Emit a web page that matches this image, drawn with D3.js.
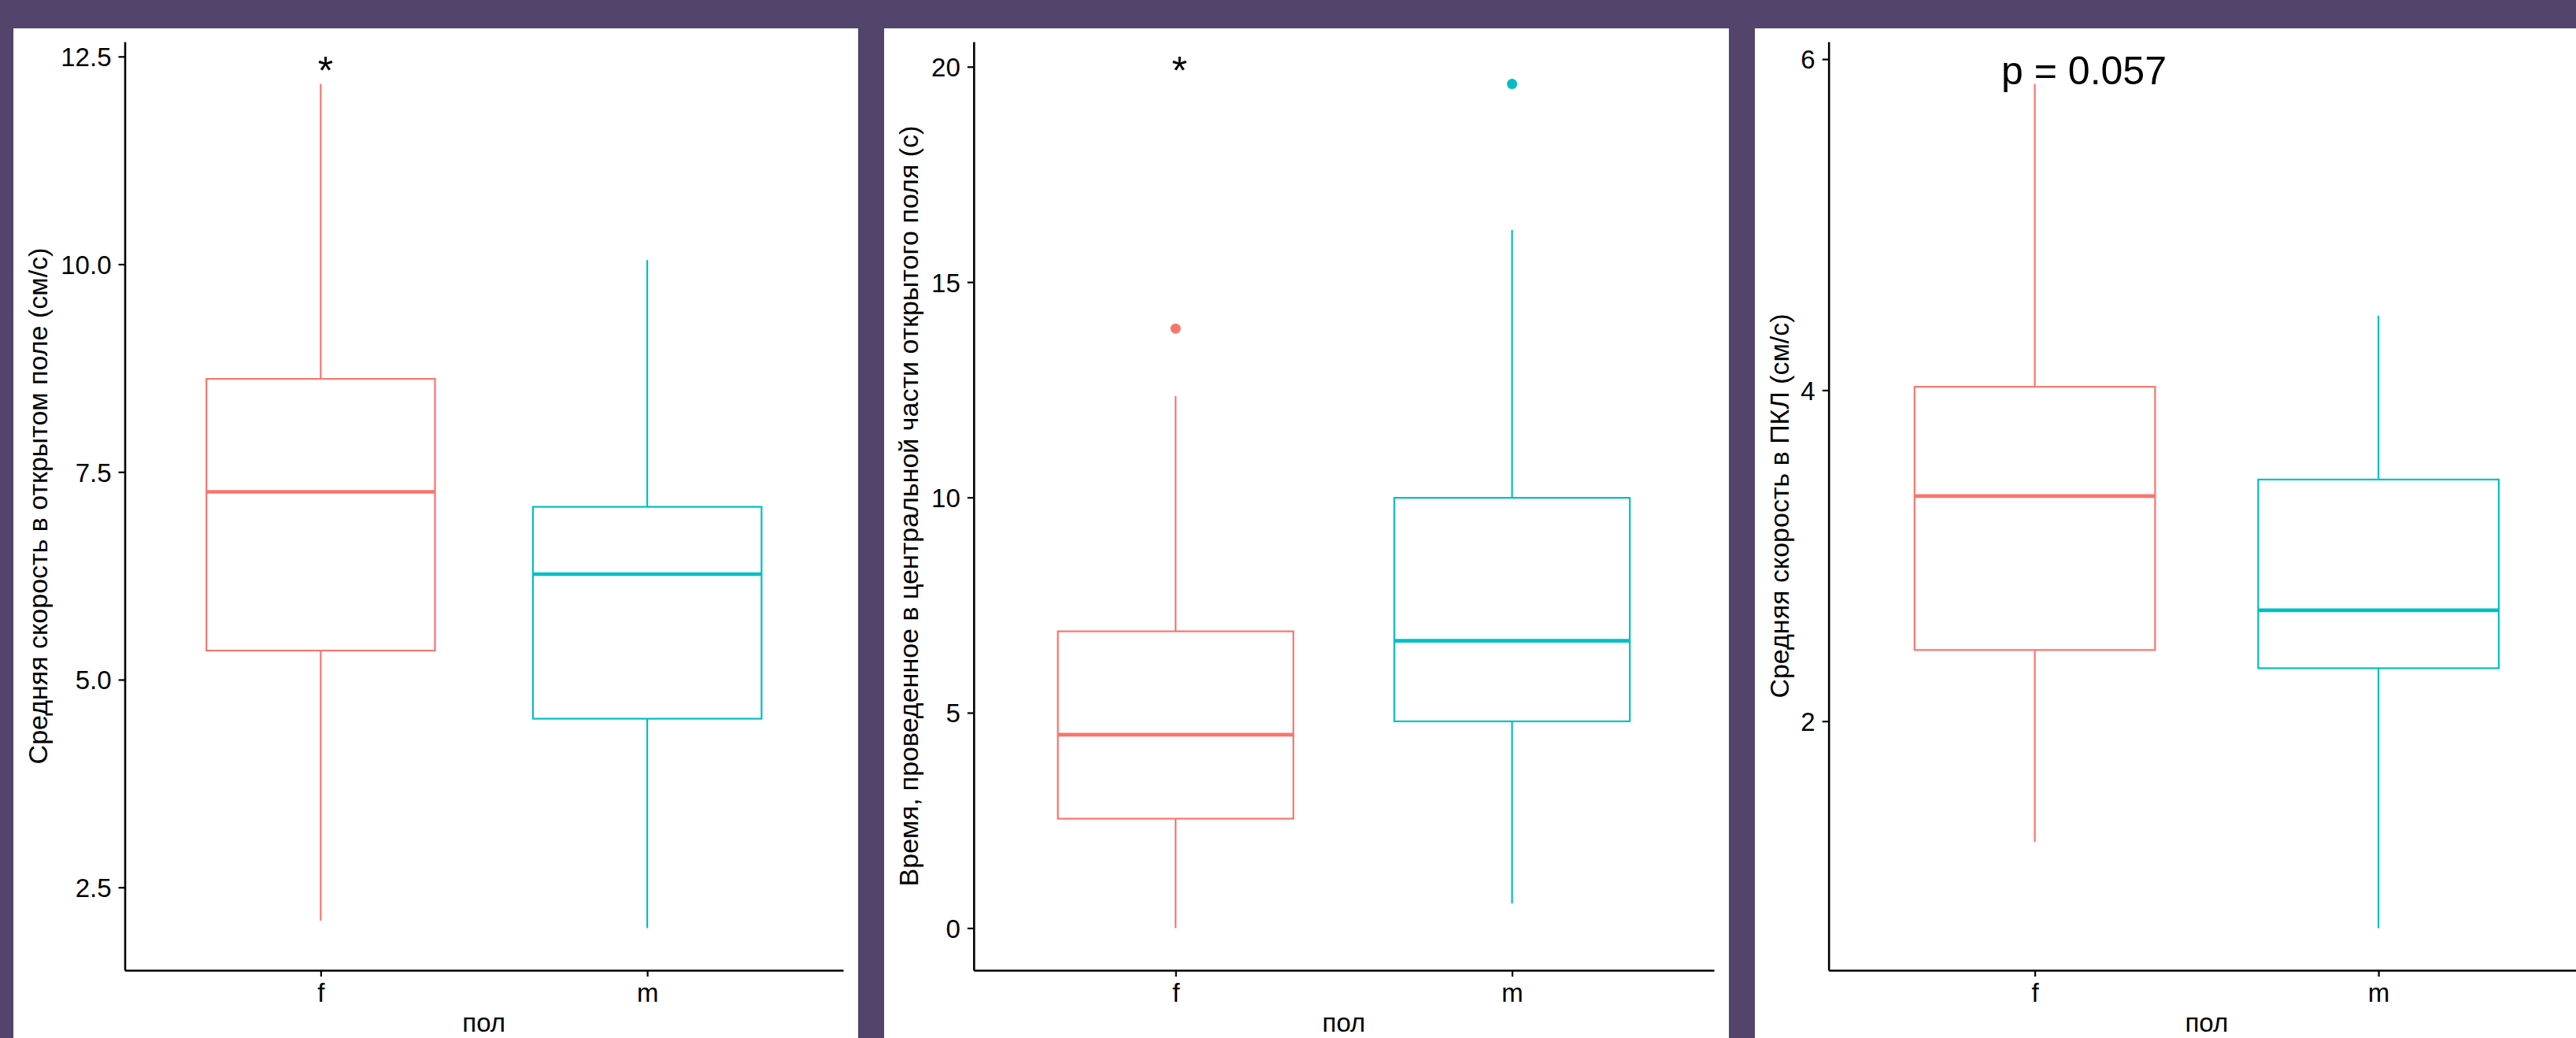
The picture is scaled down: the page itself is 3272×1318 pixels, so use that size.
<!DOCTYPE html>
<html>
<head>
<meta charset="utf-8">
<script src="https://cdn.jsdelivr.net/npm/d3@7"></script>
<style>
  html, body { margin: 0; padding: 0; background: #52446A; }
  svg { display: block; }
  text { font-family: "Liberation Sans", Arial, Helvetica, sans-serif; fill: #000; }
</style>
</head>
<body>
<svg id="chart" width="3272" height="1318"></svg>
<script>
// Groups on the x axis
const categories = ["f", "m"];

// Box statistics per group: [lower whisker, Q1, median, Q3, upper whisker]
// Mean speed in the open field (cm/s)
const speedOpenField_f = [2.10, 5.35, 7.26, 8.62, 12.17];
const speedOpenField_m = [2.01, 4.53, 6.27, 7.08, 10.05];
// Time spent in the central part of the open field (s)
const centerTime_f = [0.00, 2.54, 4.49, 6.89, 12.35];
const centerTime_m = [0.57, 4.80, 6.67, 9.99, 16.21];
const centerTimeOutliers_f = [13.92];
const centerTimeOutliers_m = [19.60];
// Mean speed in the elevated plus maze (cm/s)
const speedEPM_f = [1.27, 2.43, 3.36, 4.02, 5.85];
const speedEPM_m = [0.75, 2.32, 2.67, 3.46, 4.45];

// Axis ticks
const ticksSpeedOpenField = [2.5, 5.0, 7.5, 10.0, 12.5];
const ticksCenterTime = [0, 5, 10, 15, 20];
const ticksSpeedEPM = [2, 4, 6];

// Text
const yTitles = [
  "Средняя скорость в открытом поле (см/с)",
  "Время, проведенное в центральной части открытого поля (с)",
  "Средняя скорость в ПКЛ (см/с)"
];
const xTitle = "пол";
const testLabels = ["*", "*", "p = 0.057"];

const groupColors = ["#F8766D", "#00BFC4"];

const panels = [
  { stats: [speedOpenField_f, speedOpenField_m], outliers: [[], []],
    ticks: ticksSpeedOpenField, fmt: d3.format(".1f"),
    left: 17, axisOffset: 141.5, labelX: 1.015, anchor: "middle" },
  { stats: [centerTime_f, centerTime_m], outliers: [centerTimeOutliers_f, centerTimeOutliers_m],
    ticks: ticksCenterTime, fmt: d3.format("d"),
    left: 1123, axisOffset: 113.8, labelX: 1.012, anchor: "middle" },
  { stats: [speedEPM_f, speedEPM_m], outliers: [[], []],
    ticks: ticksSpeedEPM, fmt: d3.format("d"),
    left: 2229, axisOffset: 93.7, labelX: 1.143, anchor: "middle" }
];

const svg = d3.select("#chart");
const bandTop = 36, panelW = 1073, panelH = 1318 - bandTop;
const plotTop = 53, plotBottom = 1232, rightPad = 19;

panels.forEach((p, i) => {
  const g = svg.append("g");
  g.append("rect")
    .attr("x", p.left).attr("y", bandTop)
    .attr("width", panelW).attr("height", panelH)
    .attr("fill", "#ffffff");

  const x0 = p.left + p.axisOffset;
  const x1 = p.left + panelW - rightPad;

  // y domain: data range expanded by 5% on both sides
  const all = p.stats.flat().concat(p.outliers.flat());
  const lo = d3.min(all), hi = d3.max(all);
  const pad = (hi - lo) * 0.05;
  const y = d3.scaleLinear().domain([lo - pad, hi + pad]).range([plotBottom, plotTop]);

  const x = d3.scalePoint().domain(categories).range([x0, x1]).padding(0.6);
  const boxW = x.step() * 0.7;

  // boxes
  p.stats.forEach((s, k) => {
    const cx = x(categories[k]);
    const col = groupColors[k];
    const bg = g.append("g").attr("stroke", col).attr("fill", "none");
    bg.append("line").attr("x1", cx).attr("x2", cx)
      .attr("y1", y(s[4])).attr("y2", y(s[3])).attr("stroke-width", 2.2);
    bg.append("line").attr("x1", cx).attr("x2", cx)
      .attr("y1", y(s[1])).attr("y2", y(s[0])).attr("stroke-width", 2.2);
    bg.append("rect")
      .attr("x", cx - boxW / 2).attr("y", y(s[3]))
      .attr("width", boxW).attr("height", y(s[1]) - y(s[3]))
      .attr("fill", "#ffffff").attr("stroke-width", 2.2);
    bg.append("line").attr("x1", cx - boxW / 2).attr("x2", cx + boxW / 2)
      .attr("y1", y(s[2])).attr("y2", y(s[2])).attr("stroke-width", 4.6);
    p.outliers[k].forEach(v => {
      g.append("circle").attr("cx", cx).attr("cy", y(v)).attr("r", 6.5)
        .attr("fill", col).attr("stroke", "none");
    });
  });

  // axes
  const yAxis = g.append("g").attr("transform", `translate(${x0},0)`)
    .call(d3.axisLeft(y).tickValues(p.ticks).tickFormat(p.fmt)
      .tickSize(8).tickSizeOuter(0).tickPadding(9));
  const xAxis = g.append("g").attr("transform", `translate(0,${plotBottom})`)
    .call(d3.axisBottom(x).tickSize(8).tickSizeOuter(0).tickPadding(7));

  [yAxis, xAxis].forEach(a => {
    a.select(".domain").attr("stroke", "#000").attr("stroke-width", 2.6);
    a.selectAll(".tick line").attr("stroke", "#000").attr("stroke-width", 2.2);
    a.selectAll(".tick text").attr("fill", "#000")
      .style("font-size", "33px").style("font-family", '"Liberation Sans", Arial, sans-serif');
  });
  yAxis.selectAll(".tick text").attr("dy", "0.36em");
  xAxis.selectAll(".tick text").attr("dy", "0.76em");

  // axis titles
  g.append("text")
    .attr("transform", `translate(${p.left + 43},${(plotTop + plotBottom) / 2}) rotate(-90)`)
    .attr("text-anchor", "middle")
    .style("font-size", "34px")
    .text(yTitles[i]);
  g.append("text")
    .attr("x", (x0 + x1) / 2).attr("y", 1310)
    .attr("text-anchor", "middle")
    .style("font-size", "33px")
    .text(xTitle);

  // comparison label, placed at the top of the data range
  const lx = x0 + (x1 - x0) * ((p.labelX - 0.4) / 2.2);
  g.append("text")
    .attr("x", lx).attr("y", y(hi))
    .attr("text-anchor", p.anchor)
    .style("font-size", "50px")
    .text(testLabels[i]);
});
</script>
</body>
</html>
